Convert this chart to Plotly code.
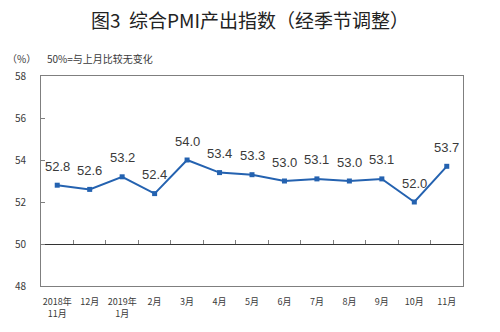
import plotly.graph_objects as go

# Composite PMI output index (seasonally adjusted), Nov 2018 – Nov 2019
months = ["2018年<br>11月", "12月", "2019年<br>1月", "2月", "3月", "4月", "5月",
          "6月", "7月", "8月", "9月", "10月", "11月"]
pmi = [52.8, 52.6, 53.2, 52.4, 54.0, 53.4, 53.3, 53.0, 53.1, 53.0, 53.1, 52.0, 53.7]
y_ticks = [48, 50, 52, 54, 56, 58]

LINE = "#2462B0"
TXT = "#3a3a3a"
FRAME = "#7f7f7f"
CJK = "Noto Sans CJK SC"
x_range = [-0.5, len(months) - 0.5]

fig = go.Figure()
fig.add_trace(go.Scatter(
    x=months, y=pmi, mode="lines+markers",
    line=dict(color=LINE, width=2),
    marker=dict(symbol="square", size=5, color=LINE),
    hoverinfo="skip", showlegend=False,
))

# value labels above each point
for m, v in zip(months, pmi):
    fig.add_annotation(x=m, y=v, text=f"{v:.1f}", showarrow=False,
                       yshift=19, font=dict(family="Liberation Sans, Arial", size=13, color=TXT))

# 50 reference axis with category-boundary ticks
fig.add_trace(go.Scatter(x=months, y=[None] * len(months), xaxis="x2",
                         hoverinfo="skip", showlegend=False))

fig.update_layout(
    width=500, height=332,
    margin=dict(l=41, r=37, t=76, b=44),
    paper_bgcolor="white", plot_bgcolor="white",
    title=dict(text="图3  综合PMI产出指数（经季节调整）", x=0.5, xanchor="center",
               y=0.935, yanchor="middle",
               font=dict(family=CJK, size=19, color="#222")),
    xaxis=dict(type="category", range=x_range, showgrid=False, showline=True, mirror=True,
               linecolor=FRAME, linewidth=1, ticks="", zeroline=False,
               tickfont=dict(family=CJK, size=9, color=TXT), ticklabelstandoff=7),
    xaxis2=dict(type="category", range=x_range, overlaying="x", anchor="free", position=0.2,
                side="bottom", showgrid=False, showline=True, linecolor="#333",
                linewidth=1, ticks="inside", ticklen=4, tickcolor=FRAME,
                tickson="boundaries", showticklabels=False),
    yaxis=dict(range=[48, 58], tickvals=y_ticks, showgrid=False, showline=True,
               mirror=True, linecolor=FRAME, linewidth=1, ticks="inside",
               ticklen=4, tickcolor=FRAME, zeroline=False,
               tickfont=dict(family=CJK, size=10, color=TXT), ticklabelstandoff=12),
)

fig.add_annotation(xref="paper", yref="paper", x=-0.085, y=1.085, xanchor="left",
                   yanchor="middle", showarrow=False, text="（%）",
                   font=dict(family=CJK, size=10, color=TXT))
fig.add_annotation(xref="paper", yref="paper", x=0.01, y=1.085, xanchor="left",
                   yanchor="middle", showarrow=False, text="50%=与上月比较无变化",
                   font=dict(family=CJK, size=10, color=TXT))

fig.write_html("out.html")
